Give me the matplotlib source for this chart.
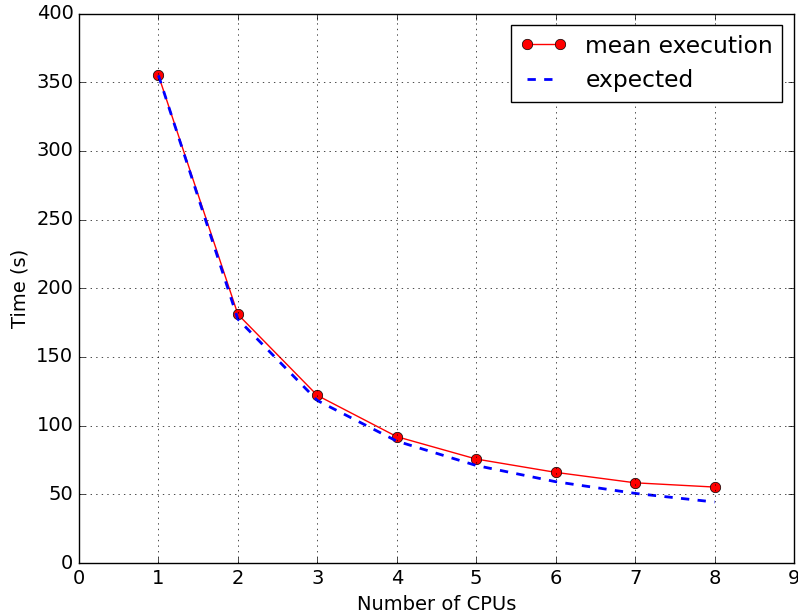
import matplotlib
matplotlib.use('Agg')
import matplotlib.pyplot as plt

plt.style.use('classic')
plt.rcParams['font.family'] = ['DejaVu Sans']
plt.rcParams['font.size'] = 14

# 데이터
cpus = [1, 2, 3, 4, 5, 6, 7, 8]
mean_exec = [355, 181, 122, 92, 75.7, 66, 58.4, 55.3]
expected = [355, 177.5, 118.3, 88.75, 71, 59.2, 50.7, 44.4]

fig = plt.figure(figsize=(7.98, 6.14), dpi=100)
ax = fig.add_axes([0.099, 0.083, 0.896, 0.895])

ax.plot(cpus, mean_exec, 'r-o', linewidth=1, markersize=7.5, label='mean execution')
ax.plot(cpus, expected, 'b--', linewidth=2, label='expected')

ax.set_xlim(0, 9)
ax.set_ylim(0, 400)
ax.set_xlabel('Number of CPUs')
ax.set_ylabel('Time (s)')
ax.grid(True)
ax.legend(loc='upper right')

fig.savefig('out.png', dpi=100)
